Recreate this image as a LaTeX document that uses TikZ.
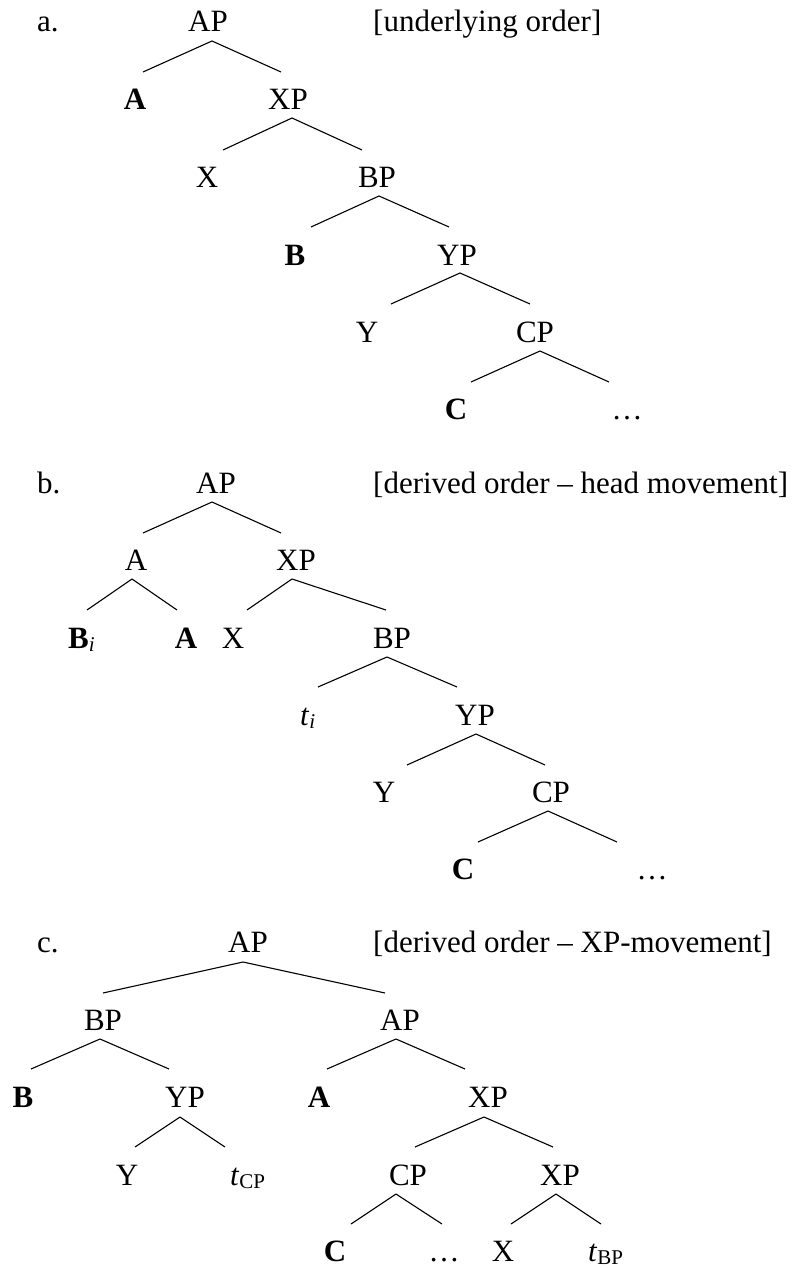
\documentclass[tikz,border=0pt]{standalone}
\usepackage{fontspec}
\setmainfont{Liberation Serif}
\newcommand\conn[4]{\draw[edge] ([shift={(#2)}]#1) -- ([shift={(#4)}]#3);}
\newcommand\mysub[1]{\raisebox{-3pt}{\fontsize{21}{21}\selectfont #1}}
\begin{document}
\begin{tikzpicture}[x=1pt,y=-1pt,
  lab/.style={anchor=base,inner sep=0pt,font=\fontsize{31}{37}\selectfont},
  labw/.style={lab,anchor=base west},
  hd/.style={lab,font=\fontsize{31}{37}\selectfont\bfseries},
  edge/.style={line width=1.1pt}]
\useasboundingbox (0,0) rectangle (801,1268);
% ---------- tree a
\node[labw] (la) at (37,32) {a.};
\node[lab] (a1) at (208,32) {AP};
\node[labw] (ta) at (373,32) {[underlying order]};
\node[hd] (a2) at (135,110) {A};
\node[lab] (a3) at (288,110) {XP};
\node[lab] (a4) at (207,187) {X};
\node[lab] (a5) at (377,187) {BP};
\node[hd] (a6) at (295,265) {B};
\node[lab] (a7) at (457,265) {YP};
\node[lab] (a8) at (367,342) {Y};
\node[lab] (a9) at (535,342) {CP};
\node[hd] (a10) at (456,419) {C};
\node[lab] (a11) at (627,419) {\ldots};
\conn{a1.base}{4,9}{a2.base}{8,-38}
\conn{a1.base}{4,9}{a3.base}{-7,-38}
\conn{a3.base}{4,8}{a4.base}{16,-37}
\conn{a3.base}{4,8}{a5.base}{-15,-37}
\conn{a5.base}{2,9}{a6.base}{16,-38}
\conn{a5.base}{2,9}{a7.base}{-8,-38}
\conn{a7.base}{3,8}{a8.base}{24,-38}
\conn{a7.base}{3,8}{a9.base}{-5,-38}
\conn{a9.base}{5,9}{a10.base}{15,-37}
\conn{a9.base}{5,9}{a11.base}{-18,-37}
% ---------- tree b
\node[labw] (lb) at (37,493) {b.};
\node[lab] (b1) at (216,493) {AP};
\node[labw] (tb) at (373,493) {[derived order -- head movement]};
\node[lab] (b2) at (136,570) {A};
\node[lab] (b3) at (296,570) {XP};
\node[labw] (b4) at (68,648) {\textbf{B}\mysub{\textit{i}}};
\node[hd] (b5) at (186,648) {A};
\node[lab] (b6) at (233,648) {X};
\node[lab] (b7) at (392,648) {BP};
\node[labw] (b8) at (300,725) {\textit{t}\mysub{\textit{i}}};
\node[lab] (b9) at (475,725) {YP};
\node[lab] (b10) at (384,802) {Y};
\node[lab] (b11) at (551,802) {CP};
\node[hd] (b12) at (463,879) {C};
\node[lab] (b13) at (652,879) {\ldots};
\conn{b1.base}{-4,9}{b2.base}{7,-37}
\conn{b1.base}{-4,9}{b3.base}{-15,-37}
\conn{b2.base}{-4,9}{b4.base west}{19,-38}
\conn{b2.base}{-4,9}{b5.base}{-9,-38}
\conn{b3.base}{-4,9}{b6.base}{14,-38}
\conn{b3.base}{-4,9}{b7.base}{-6,-38}
\conn{b7.base}{-5,9}{b8.base west}{18,-38}
\conn{b7.base}{-5,9}{b9.base}{-18,-38}
\conn{b9.base}{1,9}{b10.base}{23,-37}
\conn{b9.base}{1,9}{b11.base}{-6,-37}
\conn{b11.base}{-3,9}{b12.base}{15,-37}
\conn{b11.base}{-3,9}{b13.base}{-35,-37}
% ---------- tree c
\node[labw] (lc) at (37,952) {c.};
\node[lab] (c1) at (248,952) {AP};
\node[labw] (tc) at (373,952) {[derived order -- XP-movement]};
\node[lab] (c2) at (103,1030) {BP};
\node[lab] (c3) at (400,1030) {AP};
\node[hd] (c4) at (23,1107) {B};
\node[lab] (c5) at (185,1107) {YP};
\node[hd] (c6) at (319,1107) {A};
\node[lab] (c7) at (488,1107) {XP};
\node[lab] (c8) at (127,1185) {Y};
\node[labw] (c9) at (230,1185) {\textit{t}\mysub{CP}};
\node[lab] (c10) at (408,1185) {CP};
\node[lab] (c11) at (560,1185) {XP};
\node[hd] (c12) at (335,1261) {C};
\node[lab] (c13) at (444,1261) {\ldots};
\node[lab] (c14) at (503,1261) {X};
\node[labw] (c15) at (588,1261) {\textit{t}\mysub{BP}};
\conn{c1.base}{-5,10}{c2.base}{0,-37}
\conn{c1.base}{-5,10}{c3.base}{-15,-37}
\conn{c2.base}{-3,9}{c4.base}{8,-38}
\conn{c2.base}{-3,9}{c5.base}{-16,-38}
\conn{c3.base}{-4,9}{c6.base}{8,-38}
\conn{c3.base}{-4,9}{c7.base}{-23,-38}
\conn{c5.base}{-5,10}{c8.base}{8,-38}
\conn{c5.base}{-5,10}{c9.base west}{-5,-38}
\conn{c7.base}{-4,10}{c10.base}{7,-38}
\conn{c7.base}{-4,10}{c11.base}{-7,-38}
\conn{c10.base}{-12,9}{c12.base}{16,-37}
\conn{c10.base}{-12,9}{c13.base}{-2,-37}
\conn{c11.base}{-4,9}{c14.base}{8,-37}
\conn{c11.base}{-4,9}{c15.base west}{13,-37}
\end{tikzpicture}
\end{document}
